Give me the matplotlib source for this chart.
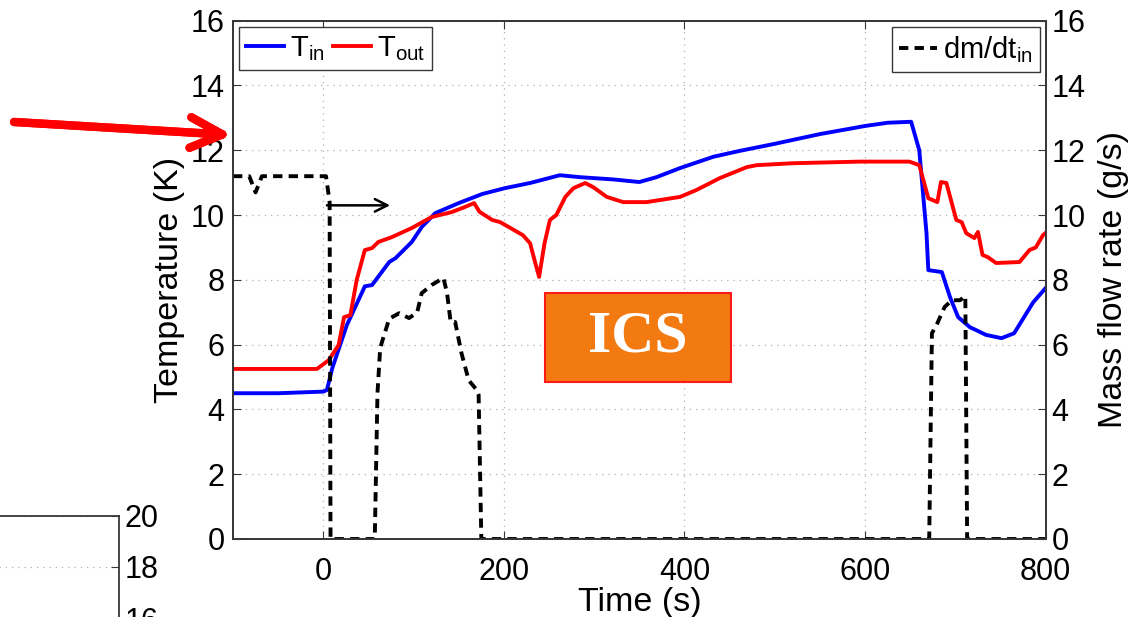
import matplotlib.pyplot as plt
from matplotlib.patches import Rectangle

plt.rcParams['font.family'] = ['Liberation Sans', 'DejaVu Sans']
plt.rcParams['mathtext.fontset'] = 'custom'
plt.rcParams['mathtext.rm'] = 'Liberation Sans'
plt.rcParams['mathtext.default'] = 'regular'

# inlet temperature (K)
time_in = [-100, -50, 0, 4, 10, 26, 46, 54, 73, 80, 98, 109, 124, 150, 176,
           201, 229, 262, 284, 321, 350, 369, 395, 432, 461, 500, 550, 600,
           625, 651, 660, 668, 670, 685, 694, 703, 716, 734, 751, 765, 786, 800]
t_in = [4.5, 4.5, 4.55, 4.6, 5.28, 6.6, 7.8, 7.84, 8.55, 8.67, 9.17, 9.63,
        10.06, 10.37, 10.65, 10.83, 10.99, 11.23, 11.17, 11.1, 11.02, 11.17,
        11.45, 11.8, 11.98, 12.2, 12.5, 12.75, 12.85, 12.88, 12.0, 9.44, 8.3,
        8.24, 7.47, 6.85, 6.54, 6.3, 6.2, 6.35, 7.3, 7.75]

# outlet temperature (K)
time_out = [-100, -7, 6, 17, 23, 30, 37, 46, 54, 61, 76, 98, 120, 142, 157,
            167, 173, 187, 196, 221, 229, 234, 239, 245, 251, 258, 268, 277,
            290, 299, 314, 332, 358, 395, 413, 439, 469, 480, 520, 594, 649,
            660, 670, 680, 684, 690, 701, 707, 712, 721, 725, 730, 736, 745,
            771, 782, 789, 797, 800]
t_out = [5.25, 5.25, 5.52, 5.99, 6.85, 6.91, 8.0, 8.92, 8.98, 9.17, 9.32,
         9.6, 9.94, 10.09, 10.25, 10.37, 10.1, 9.85, 9.78, 9.38, 9.13, 8.6,
         8.09, 9.13, 9.85, 10.0, 10.56, 10.83, 10.99, 10.86, 10.56, 10.4,
         10.4, 10.56, 10.77, 11.14, 11.48, 11.54, 11.6, 11.65, 11.65, 11.54,
         10.52, 10.4, 11.02, 10.99, 9.85, 9.78, 9.44, 9.29, 9.48, 8.77, 8.7,
         8.52, 8.55, 8.92, 9.0, 9.38, 9.45]

# inlet mass flow rate (g/s)
time_m = [-100, -82, -75, -68, 3, 7, 8, 57, 60, 63, 73, 84, 95, 104, 109,
          120, 133, 137, 141, 146, 153, 161, 170, 172, 175, 671, 674, 680,
          688, 696, 705, 711, 713, 800]
flow = [11.2, 11.2, 10.7, 11.2, 11.2, 10.4, 0, 0, 4.5, 5.9, 6.8, 6.97, 6.82,
        7.0, 7.59, 7.84, 8.06, 7.6, 6.7, 6.7, 5.74, 4.9, 4.6, 4.45, 0, 0,
        6.35, 6.66, 7.16, 7.37, 7.37, 7.5, 0, 0]

x_ticks = [0, 200, 400, 600, 800]
y_ticks = [0, 2, 4, 6, 8, 10, 12, 14, 16]

fs = 22
fs_label = 24.5
spine_c = '#383838'

fig = plt.figure(figsize=(11.32, 6.17), dpi=100)

# piece of the neighbouring panel
axp = fig.add_axes([-0.3, -0.667, 0.4051, 0.8314])
axp.set_ylim(0, 20)
axp.set_xlim(0, 1)
axp.set_yticks([0, 2, 4, 6, 8, 10, 12, 14, 16, 18, 20])
axp.set_xticks([])
axp.yaxis.tick_right()
axp.tick_params(axis='y', direction='in', length=6, labelsize=fs, pad=4,
                color=spine_c)
axp.grid(axis='y', linestyle=(0, (1, 4)), color='#b0b0b0', lw=0.9)
for s in axp.spines.values():
    s.set_color(spine_c)
    s.set_linewidth(1.3)

ax = fig.add_axes([0.20583, 0.12642, 0.71793, 0.84003])
ax2 = ax.twinx()

l_in, = ax.plot(time_in, t_in, color='#0000ff', lw=2.8, label=r'T$_{in}$')
l_out, = ax.plot(time_out, t_out, color='#ff0000', lw=2.8, label=r'T$_{out}$')
l_m, = ax2.plot(time_m, flow, color='k', lw=2.8, linestyle='--',
                dashes=(2.4, 1.6), label=r'dm/dt$_{in}$')

for a in (ax, ax2):
    a.set_xlim(-100, 800)
    a.set_ylim(0, 16)
    a.set_yticks(y_ticks)
    for s in a.spines.values():
        s.set_color(spine_c)
        s.set_linewidth(1.3)

ax.set_xticks(x_ticks)
ax.tick_params(axis='both', direction='in', length=6, labelsize=fs,
               color=spine_c, top=True)
ax.tick_params(axis='y', pad=6)
ax.tick_params(axis='x', pad=13)
ax2.tick_params(axis='y', direction='in', length=6, labelsize=fs,
                color=spine_c, pad=4)
ax.grid(True, linestyle=(0, (1, 4)), color='#b0b0b0', lw=0.9)

ax.set_xlabel('Time (s)', fontsize=fs_label, labelpad=0)
ax.set_ylabel('Temperature (K)', fontsize=fs_label, labelpad=4)
ax2.set_ylabel('Mass flow rate (g/s)', fontsize=fs_label, labelpad=9)

leg_kw = dict(fontsize=21, fancybox=False, framealpha=1, edgecolor=spine_c,
              handlelength=1.3, handletextpad=0.2, borderaxespad=0.2,
              borderpad=0.25, columnspacing=0.3)
leg1 = ax.legend(handles=[l_in, l_out], loc='upper left', ncol=2, **leg_kw)
leg2 = ax2.legend(handles=[l_m], loc='upper right', **leg_kw)
for lg in (leg1, leg2):
    lg.get_frame().set_linewidth(1.0)

# arrow pointing the flow curve to the right-hand axis
ax.annotate('', xy=(74, 10.3), xytext=(4, 10.3),
            arrowprops=dict(arrowstyle='->, head_length=0.9, head_width=0.45',
                            color='k', lw=1.8, mutation_scale=10,
                            shrinkA=0, shrinkB=0))

# ICS label box
ax.add_patch(Rectangle((0.3839, 0.3029), 0.2289, 0.1717,
                       transform=ax.transAxes, facecolor='#f27a10',
                       edgecolor='#ff1a1a', lw=1.5, zorder=5))
ax.text(0.4984, 0.389, 'ICS', transform=ax.transAxes, ha='center',
        va='center', color='white', fontsize=43, fontweight='bold',
        family='Liberation Serif', zorder=6)

# big red arrow at the left
fig.add_artist(plt.annotate('', xy=(0.2049, 0.7812), xytext=(0.0124, 0.8023),
               xycoords='figure fraction', textcoords='figure fraction',
               arrowprops=dict(arrowstyle='->, head_length=2.3, head_width=1.1',
                               color='#ff0000', lw=6, mutation_scale=10,
                               shrinkA=0, shrinkB=0)))

fig.savefig('out.png', dpi=100)
